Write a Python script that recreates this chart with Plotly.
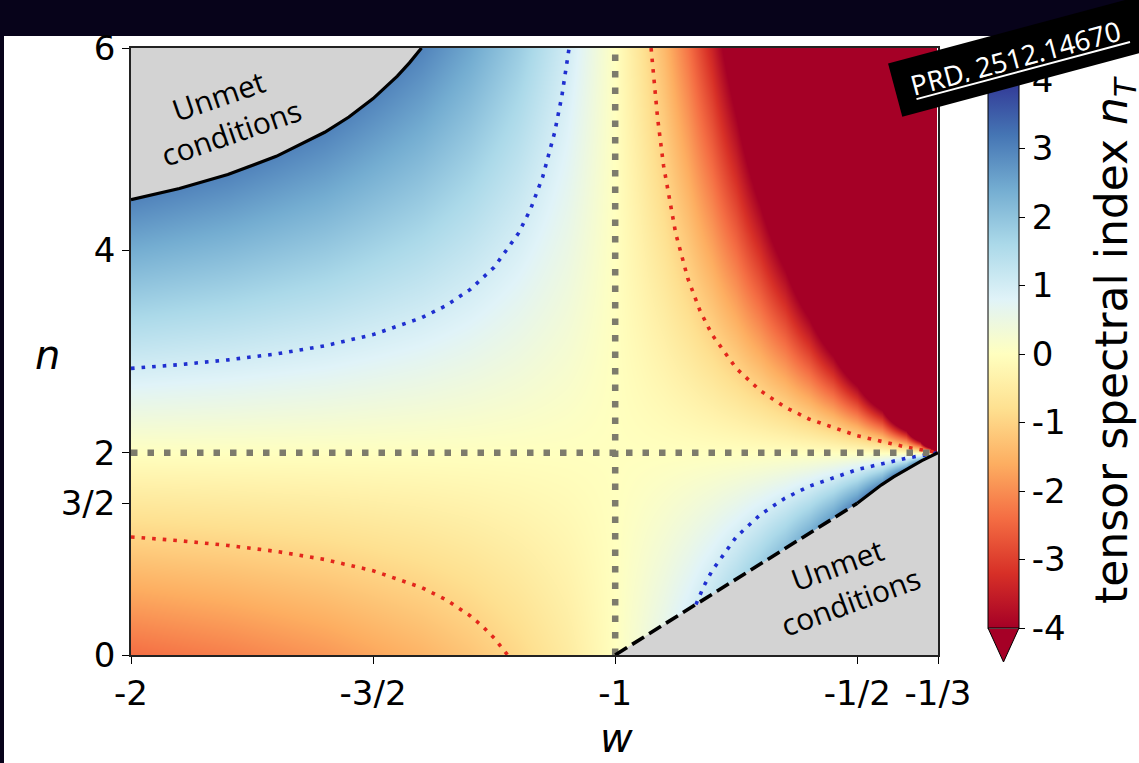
import plotly.graph_objects as go

W, H = 1139, 763

# ---------------- data ----------------
# tensor spectral index n_T sampled on a (w, n) grid
w_grid = [-2, -1.8, -1.6, -1.4, -1.3, -1.2, -1.1, -1, -0.95, -0.9, -0.85, -0.8,
          -0.75, -0.7, -0.65, -0.6, -0.55, -0.5, -0.45, -0.4, -0.37, -0.35, -0.34]
n_grid = [0, 1, 2, 3, 4, 5, 6]
nT = [
    [-2.4, -2.182, -1.895, -1.5, -1.241, -0.923, -0.522, 0, 0.324, 0.706, 1.161, 1.714,
     2.4, 3.273, 4.421, 6, 8.308, 12, 18.857, 36, 68.73, 156, 396],
    [-1.2, -1.091, -0.947, -0.75, -0.621, -0.462, -0.261, 0, 0.162, 0.353, 0.581, 0.857,
     1.2, 1.636, 2.211, 3, 4.154, 6, 9.429, 18, 34.36, 78, 198],
    [0, 0, 0, 0, 0, 0, 0, 0, 0, 0, 0, 0, 0, 0, 0, 0, 0, 0, 0, 0, 0, 0, 0],
    [1.2, 1.091, 0.947, 0.75, 0.621, 0.462, 0.261, 0, -0.162, -0.353, -0.581, -0.857,
     -1.2, -1.636, -2.211, -3, -4.154, -6, -9.429, -18, -34.36, -78, -198],
    [2.4, 2.182, 1.895, 1.5, 1.241, 0.923, 0.522, 0, -0.324, -0.706, -1.161, -1.714,
     -2.4, -3.273, -4.421, -6, -8.308, -12, -18.857, -36, -68.73, -156, -396],
    [3.6, 3.273, 2.842, 2.25, 1.862, 1.385, 0.783, 0, -0.486, -1.059, -1.742, -2.571,
     -3.6, -4.909, -6.632, -9, -12.46, -18, -28.29, -54, -103.1, -234, -594],
    [4.8, 4.364, 3.789, 3.0, 2.483, 1.846, 1.043, 0, -0.649, -1.412, -2.323, -3.429,
     -4.8, -6.545, -8.842, -12, -16.62, -24, -37.71, -72, -137.4, -312, -792],
]

# n_T = +1 contour (blue dotted)
p1_upper_w = [-2, -1.9, -1.8, -1.7, -1.6, -1.5, -1.4, -1.35, -1.3, -1.25, -1.2,
              -1.175, -1.15, -1.125, -1.11, -1.1, -1.0952]
p1_upper_n = [2.833, 2.870, 2.917, 2.976, 3.056, 3.167, 3.333, 3.452, 3.611, 3.833,
              4.167, 4.405, 4.722, 5.167, 5.530, 5.833, 6.0]
p1_lower_w = [-0.8333, -0.8167, -0.8, -0.75, -0.7, -0.65, -0.6, -0.5, -0.4, -0.3333]
p1_lower_n = [0.5, 0.682, 0.833, 1.167, 1.389, 1.548, 1.667, 1.833, 1.944, 2.0]

# n_T = -1 contour (red dotted)
m1_lower_w = [-2, -1.9, -1.8, -1.7, -1.6, -1.5, -1.4, -1.35, -1.3, -1.275, -1.25,
              -1.235, -1.2222]
m1_lower_n = [1.167, 1.130, 1.083, 1.024, 0.944, 0.833, 0.667, 0.548, 0.389, 0.288,
              0.167, 0.082, 0.0]
m1_upper_w = [-0.9259, -0.9125, -0.9, -0.875, -0.85, -0.825, -0.8, -0.75, -0.7, -0.65,
              -0.6, -0.5, -0.4, -0.3333]
m1_upper_n = [6.0, 5.310, 4.833, 4.167, 3.722, 3.405, 3.167, 2.833, 2.611, 2.452,
              2.333, 2.167, 2.056, 2.0]

# n_T = 0 lines (grey dotted)
zero_w = -1
zero_n = 2

# boundaries of the "Unmet conditions" regions
bound_upper_w = [-2, -1.9, -1.8, -1.7, -1.6, -1.55, -1.5, -1.45, -1.425, -1.4]
bound_upper_n = [4.5, 4.611, 4.75, 4.929, 5.167, 5.318, 5.5, 5.722, 5.853, 6.0]
bound_dash_w = [-1, -0.5]
bound_dash_n = [0, 1.5]
bound_lower_w = [-0.5, -0.45, -0.425, -0.4, -0.3667, -0.3333]
bound_lower_n = [1.5, 1.682, 1.761, 1.833, 1.921, 2.0]

w_min, w_max = -2, -1 / 3
n_min, n_max = 0, 6

x_tickvals = [-2, -1.5, -1, -0.5, -1 / 3]
x_ticktext = ['-2', '-3/2', '-1', '-1/2', '-1/3']
y_tickvals = [0, 1.5, 2, 4, 6]
y_ticktext = ['0', '3/2', '2', '4', '6']
cb_ticks = [-4, -3, -2, -1, 0, 1, 2, 3, 4]

# ---------------- styling ----------------
RdYlBu = [
    [0.0, '#a50026'], [0.1, '#d73027'], [0.2, '#f46d43'], [0.3, '#fdae61'],
    [0.4, '#fee090'], [0.5, '#ffffbf'], [0.6, '#e0f3f8'], [0.7, '#abd9e9'],
    [0.8, '#74add1'], [0.9, '#4575b4'], [1.0, '#313695'],
]
FONT = 'DejaVu Sans'
BLUE = '#1f2fd0'
RED = '#e3261c'
GREY = '#7d7b6c'
UNMET = '#d3d3d3'
TICK_SIZE = 34


def PX(x):
    return x / W


def PY(y):
    return 1 - y / H


# plot area in pixels
L, R, T, B = 131, 938, 48, 655
# colorbar in pixels
CB_L, CB_R, CB_T, CB_B = 988, 1019, 80, 628


def cb_y(v):
    return CB_B - (v + 4) / 8 * (CB_B - CB_T)


fig = go.Figure()

fig.add_trace(go.Heatmap(
    x=w_grid, y=n_grid, z=nT, zmin=-4, zmax=4, zsmooth='best',
    colorscale=RdYlBu, hoverinfo='skip',
    colorbar=dict(
        thickness=CB_R - CB_L, thicknessmode='pixels',
        len=CB_B - CB_T, lenmode='pixels',
        x=PX(CB_L), xanchor='left', xpad=0,
        y=PY((CB_T + CB_B) / 2), yanchor='middle', ypad=0,
        outlinewidth=1, outlinecolor='black',
        tickvals=cb_ticks, ticktext=[str(v) for v in cb_ticks],
        ticks='outside', ticklen=6, tickwidth=1.2, tickcolor='black',
        tickfont=dict(family=FONT, size=TICK_SIZE, color='black'),
    ),
))

# unmet regions (grey)
fig.add_trace(go.Scatter(
    x=bound_upper_w + [w_min], y=bound_upper_n + [n_max],
    fill='toself', fillcolor=UNMET, mode='none', hoverinfo='skip', showlegend=False))
fig.add_trace(go.Scatter(
    x=bound_dash_w + bound_lower_w[1:] + [w_max], y=bound_dash_n + bound_lower_n[1:] + [n_min],
    fill='toself', fillcolor=UNMET, mode='none', hoverinfo='skip', showlegend=False))

# contours n_T = +1 / -1
for xs, ys, col in [(p1_upper_w, p1_upper_n, BLUE), (p1_lower_w, p1_lower_n, BLUE),
                    (m1_lower_w, m1_lower_n, RED), (m1_upper_w, m1_upper_n, RED)]:
    fig.add_trace(go.Scatter(x=xs, y=ys, mode='lines', hoverinfo='skip', showlegend=False,
                             line=dict(color=col, width=3.6, dash='3.6px,7px')))

# n_T = 0 lines
fig.add_trace(go.Scatter(x=[w_min, w_max], y=[zero_n, zero_n], mode='lines', hoverinfo='skip',
                         showlegend=False, line=dict(color=GREY, width=6.5, dash='6.5px,10px')))
fig.add_trace(go.Scatter(x=[zero_w, zero_w], y=[n_min, n_max], mode='lines', hoverinfo='skip',
                         showlegend=False, line=dict(color=GREY, width=6.5, dash='6.5px,10px')))

# boundaries
fig.add_trace(go.Scatter(x=bound_upper_w, y=bound_upper_n, mode='lines', hoverinfo='skip',
                         showlegend=False, line=dict(color='black', width=3.2)))
fig.add_trace(go.Scatter(x=bound_lower_w, y=bound_lower_n, mode='lines', hoverinfo='skip',
                         showlegend=False, line=dict(color='black', width=3.2)))
fig.add_trace(go.Scatter(x=bound_dash_w, y=bound_dash_n, mode='lines', hoverinfo='skip',
                         showlegend=False, line=dict(color='black', width=3.6, dash='14px,6px')))


def ppath(points):
    return 'M ' + ' L '.join('{:.5f} {:.5f}'.format(PX(x), PY(y)) for x, y in points) + ' Z'


shapes = [
    # dark screenshot frame
    dict(type='rect', xref='paper', yref='paper', x0=0, x1=1, y0=PY(36), y1=1,
         fillcolor='#07031a', line=dict(width=0), layer='below'),
    dict(type='rect', xref='paper', yref='paper', x0=0, x1=PX(4), y0=0, y1=1,
         fillcolor='#07031a', line=dict(width=0), layer='below'),
    # colorbar extension triangle
    dict(type='path', xref='paper', yref='paper',
         path=ppath([(CB_L, CB_B), (CB_R, CB_B), ((CB_L + CB_R) / 2, CB_B + 34)]),
         fillcolor='#a50026', line=dict(color='black', width=1), layer='above'),
    dict(type='line', xref='paper', yref='paper', x0=PX(CB_L + 1), x1=PX(CB_R - 1),
         y0=PY(CB_B), y1=PY(CB_B), line=dict(color='white', width=1)),
]
for v, col, lw in [(1, '#0a1ee6', 3.5), (0, '#808070', 5), (-1, '#e8140c', 3.5)]:
    shapes.append(dict(type='line', xref='paper', yref='paper', x0=PX(CB_L), x1=PX(CB_R),
                       y0=PY(cb_y(v)), y1=PY(cb_y(v)), line=dict(color=col, width=lw)))


def ann(text, x, y, size, family=FONT, angle=0, color='black'):
    return dict(text=text, x=PX(x), y=PY(y), xref='paper', yref='paper', showarrow=False,
                xanchor='center', yanchor='middle', textangle=angle, align='center',
                font=dict(family=family, size=size, color=color))


banner = ann('PRD, 2512.14670', 1056, 47, 27.5, family='Noto Sans', angle=-15, color='white')
banner.update(bgcolor='black', width=300, height=22, borderpad=16, align='left')

underline = dict(text='', x=PX(1130), y=PY(42), xref='paper', yref='paper',
                 showarrow=True, arrowhead=0, arrowwidth=2, arrowcolor='white',
                 ax=915 - 1130, ay=99.5 - 42, axref='pixel', ayref='pixel',
                 standoff=0, startstandoff=0)

annotations = [
    ann('<i>n</i>', 47, 355, 40),
    ann('<i>w</i>', 616, 738, 40),
    ann('tensor spectral index <i>n</i><sub><i>T</i></sub>', 1114, 340, 44, angle=-90),
    ann('Unmet<br>conditions', 225, 114, 30, family='Open Sans', angle=-19),
    ann('Unmet<br>conditions', 844, 583, 30, family='Open Sans', angle=-20),
    banner,
    underline,
]

fig.update_layout(
    width=W, height=H,
    margin=dict(l=0, r=0, t=0, b=0, autoexpand=False),
    paper_bgcolor='white', plot_bgcolor='white',
    showlegend=False,
    shapes=shapes, annotations=annotations,
    xaxis=dict(domain=[PX(L), PX(R)], range=[w_min, w_max], showgrid=False, zeroline=False,
               automargin=False,
               tickvals=x_tickvals, ticktext=x_ticktext, ticks='outside', ticklen=7,
               tickwidth=1.2, tickcolor='black', showline=True, linecolor='#222',
               linewidth=1.5, mirror=True,
               tickfont=dict(family=FONT, size=TICK_SIZE, color='black')),
    yaxis=dict(domain=[PY(B), PY(T)], range=[n_min, n_max], showgrid=False, zeroline=False,
               automargin=False,
               tickvals=y_tickvals, ticktext=y_ticktext, ticks='outside', ticklen=7,
               tickwidth=1.2, tickcolor='black', showline=True, linecolor='#222',
               linewidth=1.5, mirror=True,
               tickfont=dict(family=FONT, size=TICK_SIZE, color='black')),
)

fig.write_html('out.html',
               config={'displayModeBar': False},
               post_script="document.body.style.margin='0px';"
                           "document.body.style.overflow='hidden';")
